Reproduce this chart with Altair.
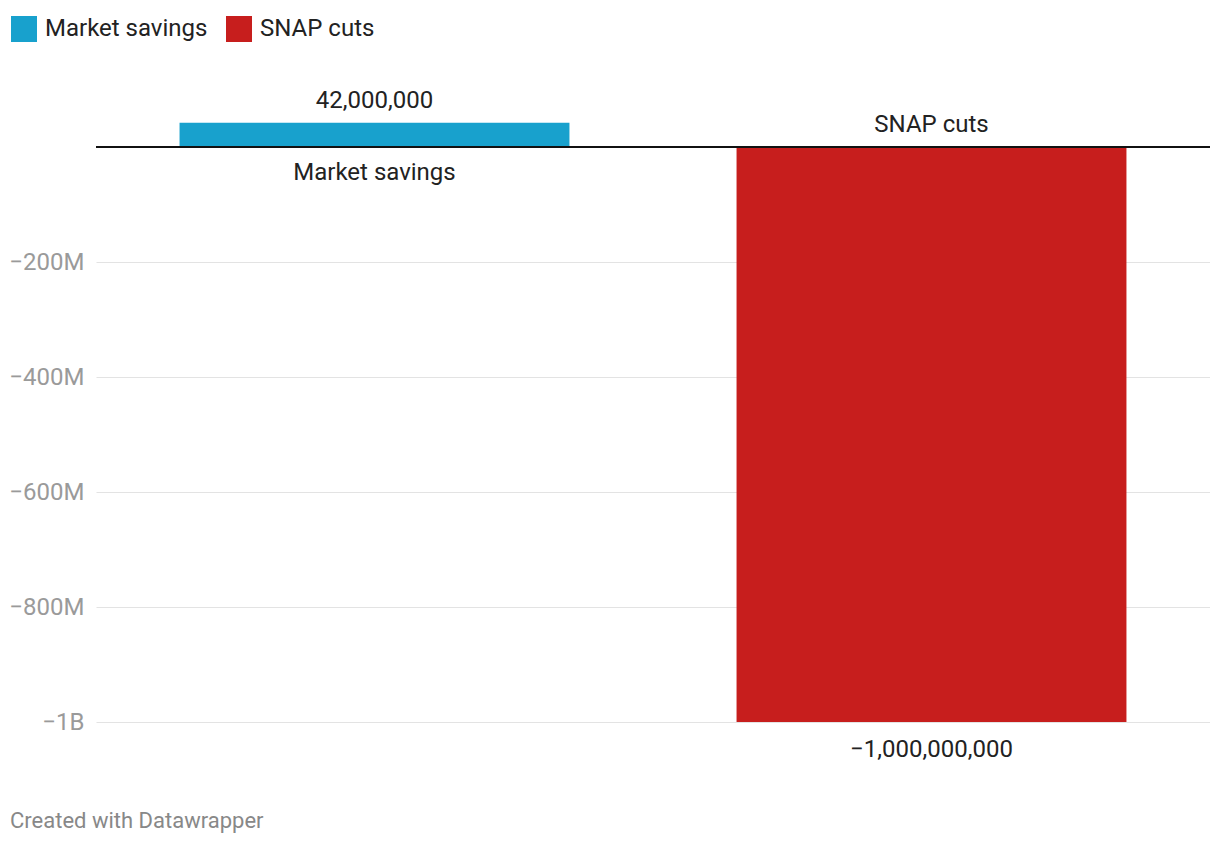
import altair as alt
import pandas as pd

categories = ["Market savings", "SNAP cuts"]
values = [42000000, -1000000000]
colors = ["#18a1cd", "#c71e1d"]
tick_values = [-1000000000, -800000000, -600000000, -400000000, -200000000, 0]
footer = "Created with Datawrapper"

df = pd.DataFrame({"category": categories, "value": values})

FONT = "Roboto"
FS = 24
W, H = 1114, 621
y_scale = alt.Scale(domain=[-1000000000, 80000000], nice=False, zero=False)
x_enc = alt.X("category:N", sort=categories,
              scale=alt.Scale(paddingInner=0.3, paddingOuter=0.15), axis=None)

base = alt.Chart(df)

bars = base.mark_bar().encode(
    x=x_enc,
    y=alt.Y("value:Q", scale=y_scale,
            axis=alt.Axis(values=tick_values, title=None, ticks=False, domain=False,
                          grid=True, gridColor="#e3e3e3", gridWidth=1,
                          labelColor="#9a9a9a", labelFont=FONT, labelFontSize=FS,
                          labelPadding=12,
                          labelExpr="datum.value == 0 ? '' : (datum.value <= -1000000000 ? '\u2212' + format(-datum.value/1000000000, '~g') + 'B' : '\u2212' + format(-datum.value/1000000, '~g') + 'M')")),
    y2=alt.datum(0),
    color=alt.Color("category:N", sort=categories,
                    scale=alt.Scale(domain=categories, range=colors),
                    legend=alt.Legend(title=None, orient="none", direction="horizontal",
                                      legendX=-85, legendY=-85,
                                      symbolType="square", symbolSize=676,
                                      symbolStrokeWidth=0, symbolOpacity=1,
                                      labelFont=FONT, labelFontSize=FS, labelColor="#222222",
                                      labelLimit=400,
                                      labelOffset=8, columnPadding=18)),
)

zero = alt.Chart(pd.DataFrame({"z": [0]})).mark_rule(color="#111111", strokeWidth=2).encode(
    y=alt.Y("z:Q", scale=y_scale)
)

pos_val = base.transform_filter("datum.value > 0").mark_text(
    font=FONT, fontSize=FS, color="#222222", baseline="middle", dy=-22
).encode(x=x_enc, y=alt.Y("value:Q", scale=y_scale), text=alt.Text("value:Q", format=","))

neg_val = base.transform_filter("datum.value < 0").mark_text(
    font=FONT, fontSize=FS, color="#222222", baseline="middle", dy=28
).encode(x=x_enc, y=alt.Y("value:Q", scale=y_scale), text=alt.Text("value:Q", format=","))

pos_cat = base.transform_filter("datum.value > 0").mark_text(
    font=FONT, fontSize=FS, color="#222222", baseline="middle", dy=26
).encode(x=x_enc, y=alt.datum(0), text="category:N")

neg_cat = base.transform_filter("datum.value < 0").mark_text(
    font=FONT, fontSize=FS, color="#222222", baseline="middle", dy=-22
).encode(x=x_enc, y=alt.datum(0), text="category:N")

foot = alt.Chart(pd.DataFrame({"t": [footer]})).mark_text(
    font=FONT, fontSize=22, color="#888888", align="left", baseline="middle"
).encode(x=alt.value(-86), y=alt.value(720), text="t:N")

chart = alt.layer(bars, zero, pos_val, neg_val, pos_cat, neg_cat, foot).properties(
    width=W, height=H,
    autosize=alt.AutoSizeParams(type="none"),
    padding={"left": 88, "top": 93, "right": 0, "bottom": 112},
).configure_view(stroke=None)

chart.save("out.html", embed_options={"renderer": "svg", "actions": False})
